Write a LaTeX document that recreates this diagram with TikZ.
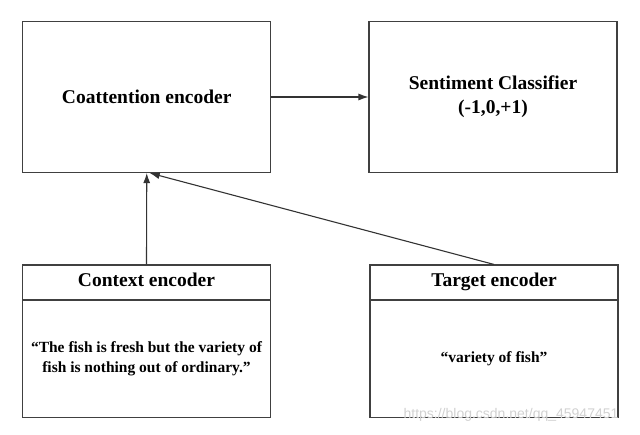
\documentclass[tikz,border=0pt]{standalone}
\usepackage{fontspec}
\setmainfont{Liberation Serif}
\setsansfont{Liberation Sans}
\usetikzlibrary{arrows.meta,positioning}

\begin{document}
\begin{tikzpicture}[x=1pt,y=-1pt]

\tikzset{block/.style = {shape=rectangle,draw=black!75,line width=1.1pt,minimum width=248pt,minimum height=151pt,align=center,font=\bfseries\fontsize{19.5}{24}\selectfont}}
\tikzset{head/.style = {shape=rectangle,draw=black!75,line width=1.1pt,minimum width=248pt,minimum height=34.5pt,text height=13.5pt,text depth=4.5pt,font=\bfseries\fontsize{19.5}{24}\selectfont}}
\tikzset{body/.style = {shape=rectangle,draw=black!75,line width=1.1pt,minimum width=248pt,minimum height=116.5pt,align=center,font=\bfseries\fontsize{15.5}{20}\selectfont}}
\tikzset{edge/.style = {-{Latex[length=10pt,width=7pt]},draw=black!80,line width=1.1pt}}
\useasboundingbox (0,0) rectangle (640,435);
% blocks
\node[block] (coatt) at  (146.75,97) {Coattention encoder};
\node[block] (senti) at  (493,97) {Sentiment Classifier\\(-1,0,+1)};
\node[head] (ctxhead) at  (146.5,282.25) {Context encoder};
\node[body,below=0pt of ctxhead] (ctxbody) {“The fish is fresh but the variety of\\fish is nothing out of ordinary.”};
\node[head] (tgthead) at  (494,282.25) {Target encoder};
\node[body,below=0pt of tgthead] (tgtbody) {“variety of fish”};
\node[font=\sffamily\fontsize{14}{16}\selectfont,text=black!18] (wm) at (511,415) {https://blog.csdn.net/qq\_45947451};
%edges
\draw[edge] (coatt) to (senti);
\draw[edge] (ctxhead.north) to (coatt.south);
\draw[edge] (tgthead.north) to ([xshift=3pt]coatt.south);
\end{tikzpicture}
\end{document}
